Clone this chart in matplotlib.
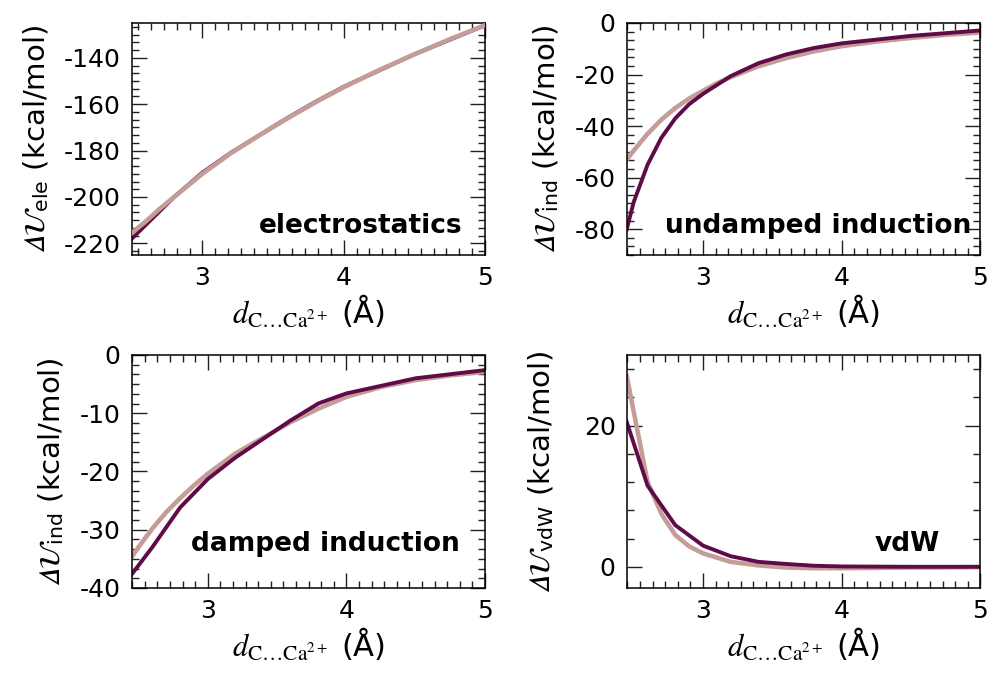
import matplotlib
matplotlib.use('Agg')
import matplotlib.pyplot as plt
from matplotlib.ticker import MultipleLocator, AutoMinorLocator

plt.rcParams['mathtext.fontset'] = 'stix'
plt.rcParams['axes.unicode_minus'] = False

dark = '#5e0b47'
light = '#c49d99'

# electrostatics: reference (dark) and model (light)
ele_x = [2.5, 2.6, 2.8, 3.0, 3.2, 3.4, 3.6, 3.8, 4.0, 4.5, 5.0]
ele_ref = [-218, -212, -200, -189.5, -181, -173.5, -166, -159, -152.5, -138.5, -126]
ele_mod_x = [2.5, 2.6, 2.7, 2.8, 2.9, 3.0, 3.2, 3.4, 3.6, 3.8, 4.0, 4.25, 4.5, 4.75, 5.0]
ele_mod = [-215.5, -210.5, -205, -200, -195, -190, -181.2, -173.5, -166.2, -159.2, -152.7,
           -145.3, -138.5, -132, -126]

# undamped induction
und_x = [2.45, 2.5, 2.6, 2.7, 2.8, 2.9, 3.0, 3.2, 3.4, 3.6, 3.8, 4.0, 4.5, 5.0]
und_ref = [-80, -69.5, -55, -44.5, -37, -31.5, -27.5, -20.6, -15.6, -12.2, -9.7, -7.9, -5.0, -2.9]
und_mod_x = [2.45, 2.5, 2.6, 2.7, 2.8, 2.9, 3.0, 3.1, 3.2, 3.4, 3.6, 3.8, 4.0, 4.25, 4.5, 4.75, 5.0]
und_mod = [-53, -49.5, -43, -37.5, -33, -29.3, -26.3, -23.4, -21, -16.8, -13.6, -11, -9,
           -7.2, -5.8, -4.6, -3.7]

# damped induction
dmp_x = [2.45, 2.6, 2.8, 3.0, 3.2, 3.4, 3.6, 3.8, 4.0, 4.5, 5.0]
dmp_ref = [-37.7, -33, -26.2, -21.3, -17.6, -14.4, -11.2, -8.3, -6.6, -4.0, -2.6]
dmp_mod_x = [2.45, 2.5, 2.6, 2.7, 2.8, 2.9, 3.0, 3.2, 3.4, 3.6, 3.8, 4.0, 4.25, 4.5, 4.75, 5.0]
dmp_mod = [-34.7, -33, -29.8, -27, -24.6, -22.4, -20.4, -16.9, -14.2, -11.5, -9.2, -7.2,
           -5.5, -4.3, -3.5, -2.9]

# vdW
vdw_x = [2.45, 2.6, 2.8, 3.0, 3.2, 3.4, 3.6, 3.8, 4.0, 4.5, 5.0]
vdw_ref = [20.5, 11.5, 5.9, 3.0, 1.5, 0.7, 0.4, 0.15, 0.05, 0.0, 0.0]
vdw_mod_x = [2.45, 2.5, 2.6, 2.7, 2.8, 2.9, 3.0, 3.2, 3.4, 3.6, 3.8, 4.0, 4.25, 4.5, 4.75, 5.0]
vdw_mod = [27, 22, 12, 7.5, 4.5, 2.9, 1.9, 0.7, 0.2, -0.1, -0.2, -0.2, -0.15, -0.1, -0.08, -0.05]

xlabel = r'$d_{\mathrm{C…Ca}^{2+}}$ (Å)'


def ylabel(sub):
    return r'$𝛥\mathcal{U}_{\mathregular{%s}}$ (kcal/mol)' % sub


def style_axis(ax, xlim, ylim, ymajor, yminor_div):
    ax.set_xlim(*xlim)
    ax.set_ylim(*ylim)
    ax.xaxis.set_major_locator(MultipleLocator(1))
    ax.xaxis.set_minor_locator(AutoMinorLocator(11))
    ax.yaxis.set_major_locator(MultipleLocator(ymajor))
    ax.yaxis.set_minor_locator(AutoMinorLocator(yminor_div))
    ax.tick_params(which='both', direction='in', top=True, right=True,
                   labelsize=18, width=1.0, color='#222222')
    ax.tick_params(which='major', length=10.5, pad=8)
    ax.tick_params(which='minor', length=5)
    for s in ax.spines.values():
        s.set_linewidth(1.1)
    ax.set_xlabel(xlabel, fontsize=22, labelpad=2)


fig = plt.figure(figsize=(9.92, 6.76), dpi=100)
ax1 = fig.add_axes([0.1328, 0.6228, 0.3561, 0.3432])
ax2 = fig.add_axes([0.6318, 0.6228, 0.3565, 0.3432])
ax3 = fig.add_axes([0.1326, 0.1302, 0.3563, 0.3447])
ax4 = fig.add_axes([0.6318, 0.1302, 0.3565, 0.3447])

# electrostatics
ax1.plot(ele_x, ele_ref, color=dark, lw=2.8, zorder=2)
ax1.plot(ele_mod_x, ele_mod, color=light, lw=3.3, zorder=3)
style_axis(ax1, (2.5, 5), (-225, -125), 20, 6)
ax1.set_ylabel(ylabel('ele'), fontsize=21)
ax1.yaxis.set_label_coords(-0.229, 0.5)
ax1.text(0.935, 0.095, 'electrostatics', transform=ax1.transAxes, ha='right',
         va='baseline', fontsize=19, fontweight='bold')

# undamped induction
ax2.plot(und_mod_x, und_mod, color=light, lw=3.3)
ax2.plot(und_x, und_ref, color=dark, lw=2.8)
style_axis(ax2, (2.45, 5), (-90, 0), 20, 6)
ax2.set_ylabel(ylabel('ind'), fontsize=21)
ax2.yaxis.set_label_coords(-0.187, 0.5)
ax2.text(0.975, 0.095, 'undamped induction', transform=ax2.transAxes, ha='right',
         va='baseline', fontsize=19, fontweight='bold')

# damped induction
ax3.plot(dmp_mod_x, dmp_mod, color=light, lw=3.3)
ax3.plot(dmp_x, dmp_ref, color=dark, lw=2.8)
style_axis(ax3, (2.45, 5), (-40, 0), 10, 6)
ax3.set_ylabel(ylabel('ind'), fontsize=21)
ax3.yaxis.set_label_coords(-0.186, 0.5)
ax3.text(0.93, 0.159, 'damped induction', transform=ax3.transAxes, ha='right',
         va='baseline', fontsize=19, fontweight='bold')

# vdW
ax4.plot(vdw_mod_x, vdw_mod, color=light, lw=3.3)
ax4.plot(vdw_x, vdw_ref, color=dark, lw=2.8)
style_axis(ax4, (2.45, 5), (-3, 30), 20, 5)
ax4.set_ylabel(ylabel('vdW'), fontsize=21)
ax4.yaxis.set_label_coords(-0.2, 0.5)
ax4.text(0.884, 0.159, 'vdW', transform=ax4.transAxes, ha='right',
         va='baseline', fontsize=19, fontweight='bold')

fig.savefig('out.png', dpi=100)
